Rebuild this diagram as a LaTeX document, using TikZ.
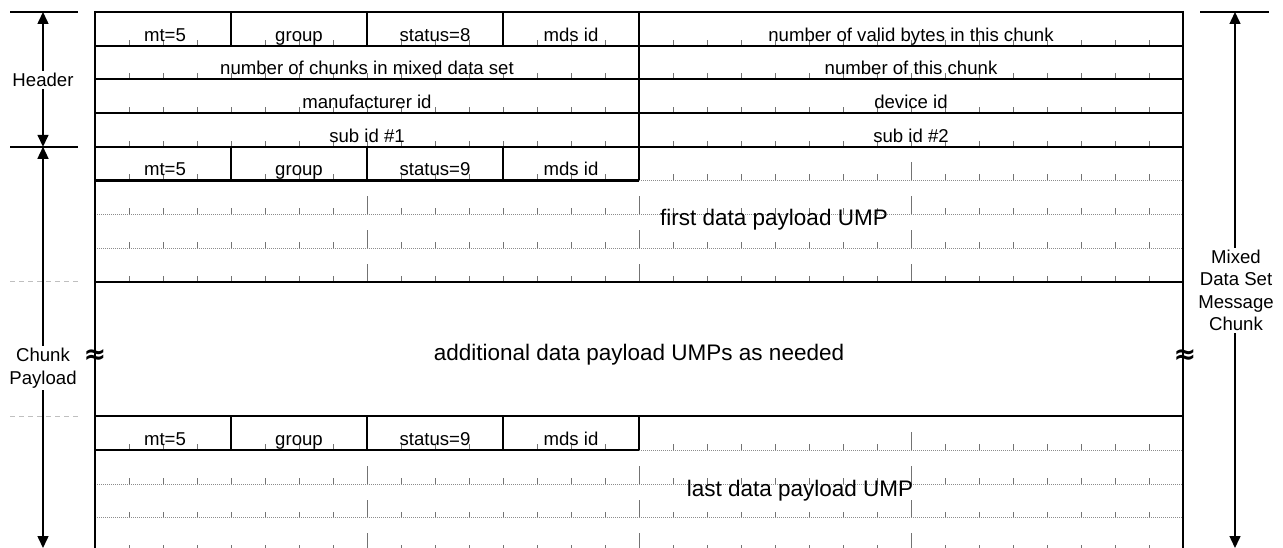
\documentclass[tikz,border=0pt]{standalone}
\usepackage{fontspec}
\setmainfont{Liberation Sans}
\newfontfamily\symfont{DejaVu Sans}
\usetikzlibrary{arrows.meta}
\begin{document}
\begin{tikzpicture}[x=1pt,y=-1pt,
  thickln/.style={line width=2.1pt},
  tickln/.style={black!55,line width=0.8pt},
  dotln/.style={black!45,line width=0.6pt,dash pattern=on 1pt off 1pt},
  dashln/.style={black!25,line width=1.2pt,dash pattern=on 5pt off 4pt},
  markln/.style={line width=1.5pt},
  lbl/.style={anchor=base,inner sep=0pt,font=\fontsize{18.6}{22}\selectfont},
  biglbl/.style={anchor=base,inner sep=0pt,font=\fontsize{22.5}{26}\selectfont},
  sidelbl/.style={fill=white,align=center,inner sep=2pt,font=\fontsize{18.6}{22.5}\selectfont},
  dimarrow/.style={line width=1.5pt,{Triangle[length=12pt,width=11pt]}-{Triangle[length=12pt,width=11pt]}},
  squig/.style={anchor=base,inner sep=0pt,font=\symfont\bfseries\fontsize{27}{27}\selectfont}
]
\useasboundingbox (0,0) rectangle (1283,548);
\clip (0,0) rectangle (1283,548);
\def\L{95}\def\R{1183}\def\M{639}
% ticks: header rows
\foreach \r in {1,2,3,4}{
  \pgfmathsetmacro\yb{12+33.7*\r}
  \foreach \b in {1,...,31}{
    \draw[tickln] ({95+34*\b},\yb) -- ++(0,-6);
  }
}
% ticks: payload rows
\foreach \r in {5,6,7,8,13,14,15,16}{
  \pgfmathsetmacro\yb{12+33.7*\r}
  \foreach \b in {1,...,31}{
    \pgfmathsetmacro\tl{ifthenelse(mod(\b,8)==0,18,6)}
    \draw[tickln] ({95+34*\b},\yb) -- ++(0,-\tl);
  }
}
% row boundary coordinates
\foreach \r in {0,...,16}{
  \pgfmathsetmacro\yy{12+33.7*\r}
  \coordinate (l\r) at (\L,\yy);
  \coordinate (m\r) at (\M,\yy);
  \coordinate (r\r) at (\R,\yy);
}
% dotted lines
\draw[dotln] (m5) -- (r5);
\draw[dotln] (l6) -- (r6);
\draw[dotln] (l7) -- (r7);
\draw[dotln] (m13) -- (r13);
\draw[dotln] (l14) -- (r14);
\draw[dotln] (l15) -- (r15);
% thick horizontal lines
\foreach \r in {0,1,2,3,4,8,12}{
  \draw[thickln] (l\r) -- (r\r);
}
\draw[thickln] (l5) -- (m5);
\draw[thickln] (l13) -- (m13);
% outer verticals
\draw[thickln] (\L,11) -- (\L,560);
\draw[thickln] (\R,11) -- (\R,560);
% cell dividers
\draw[thickln] (m0) -- (m5);
\draw[thickln] (m12) -- (m13);
\foreach \x in {231,367,503}{
  \draw[thickln] (\x,12) -- (\x,45.7);
  \draw[thickln] (\x,146.8) -- (\x,180.5);
  \draw[thickln] (\x,416.4) -- (\x,450.1);
}
% header labels
\node[lbl] (h1a) at (165,41.2) {mt=5};
\node[lbl] (h1b) at (299,41.2) {group};
\node[lbl] (h1c) at (435,41.2) {status=8};
\node[lbl] (h1d) at (571,41.2) {mds id};
\node[lbl] (h1e) at (911,41.2) {number of valid bytes in this chunk};
\node[lbl] (h2a) at (367,74.9) {number of chunks in mixed data set};
\node[lbl] (h2b) at (911,74.9) {number of this chunk};
\node[lbl] (h3a) at (367,108.6) {manufacturer id};
\node[lbl] (h3b) at (911,108.6) {device id};
\node[lbl] (h4a) at (367,142.3) {sub id \#1};
\node[lbl] (h4b) at (911,142.3) {sub id \#2};
% first payload
\node[lbl] (p1a) at (165,176) {mt=5};
\node[lbl] (p1b) at (299,176) {group};
\node[lbl] (p1c) at (435,176) {status=9};
\node[lbl] (p1d) at (571,176) {mds id};
\node[biglbl] (p1t) at (774,226) {first data payload UMP};
% additional
\node[biglbl] (adt) at (639,360) {additional data payload UMPs as needed};
\node[squig] (sqL) at (95,363) {≈};
\node[squig] (sqR) at (1185,363) {≈};
% last payload
\node[lbl] (q1a) at (165,445.6) {mt=5};
\node[lbl] (q1b) at (299,445.6) {group};
\node[lbl] (q1c) at (435,445.6) {status=9};
\node[lbl] (q1d) at (571,445.6) {mds id};
\node[biglbl] (q1t) at (800,496) {last data payload UMP};
% left dimension markers
\coordinate (hmL) at (10,12);   \coordinate (hmR) at (78,12);
\coordinate (pmL) at (10,146.8); \coordinate (pmR) at (78,146.8);
\coordinate (d1L) at (10,281.6); \coordinate (d1R) at (78,281.6);
\coordinate (d2L) at (10,416.4); \coordinate (d2R) at (78,416.4);
\draw[dashln] (d1L) -- (d1R);
\draw[dashln] (d2L) -- (d2R);
\draw[markln] (hmL) -- (hmR);
\draw[markln] (pmL) -- (pmR);
\coordinate (hTop) at (43,12);
\coordinate (hBot) at (43,146.8);
\coordinate (cBot) at (43,548);
\draw[dimarrow] (hTop) -- (hBot);
\draw[dimarrow] (hBot) -- (cBot);
\node[sidelbl] (hdr) at (43,80) {Header};
\node[sidelbl] (cpl) at (43,368) {Chunk\\Payload};
% right dimension
\coordinate (rmL) at (1200,12); \coordinate (rmR) at (1269,12);
\draw[markln] (rmL) -- (rmR);
\coordinate (rTop) at (1235,12);
\coordinate (rBot) at (1235,548);
\draw[dimarrow] (rTop) -- (rBot);
\node[sidelbl] (mds) at (1236,290.5) {Mixed\\Data Set\\Message\\Chunk};
\end{tikzpicture}
\end{document}
